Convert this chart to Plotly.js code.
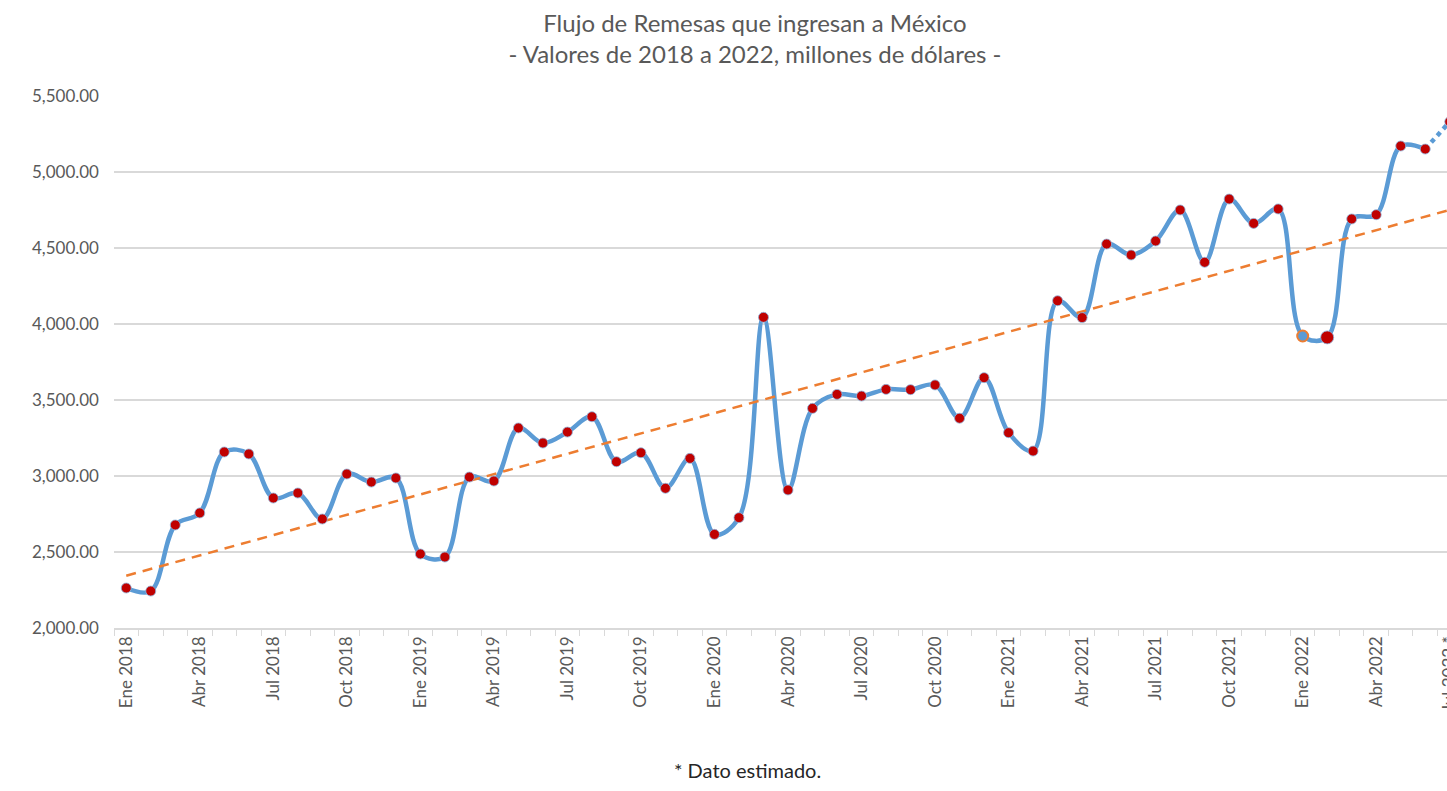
<!DOCTYPE html>
<html>
<head>
<meta charset="utf-8">
<script src="https://cdn.plot.ly/plotly-3.0.1.min.js"></script>
<style>
html, body { margin: 0; padding: 0; overflow: hidden; background: #fff; }
#chart { width: 1470px; height: 791px; }
</style>
</head>
<body>
<div id="chart"></div>
<script>
// Months (categories), Jan 2018 - Jul 2022 (last one is an estimate)
const categories = [
  'Ene 2018','Feb 2018','Mar 2018','Abr 2018','May 2018','Jun 2018','Jul 2018','Ago 2018','Sep 2018','Oct 2018','Nov 2018','Dic 2018',
  'Ene 2019','Feb 2019','Mar 2019','Abr 2019','May 2019','Jun 2019','Jul 2019','Ago 2019','Sep 2019','Oct 2019','Nov 2019','Dic 2019',
  'Ene 2020','Feb 2020','Mar 2020','Abr 2020','May 2020','Jun 2020','Jul 2020','Ago 2020','Sep 2020','Oct 2020','Nov 2020','Dic 2020',
  'Ene 2021','Feb 2021','Mar 2021','Abr 2021','May 2021','Jun 2021','Jul 2021','Ago 2021','Sep 2021','Oct 2021','Nov 2021','Dic 2021',
  'Ene 2022','Feb 2022','Mar 2022','Abr 2022','May 2022','Jun 2022','Jul 2022 *'
];

// Remittances, millions of USD
const remesas = [
  2263, 2243, 2678, 2757, 3158, 3145, 2855, 2888, 2717, 3013, 2960, 2987,
  2487, 2467, 2993, 2967, 3316, 3217, 3289, 3390, 3094, 3153, 2919, 3116,
  2616, 2726, 4044, 2908, 3445, 3537, 3526, 3570, 3568, 3599, 3380, 3647,
  3285, 3164, 4153, 4042, 4526, 4454, 4546, 4750, 4406, 4822, 4662, 4757,
  3921, 3912, 4691, 4719, 5171, 5151, 5331
];

// Tick labels shown every quarter
const tickLabels = [
  'Ene 2018','Abr 2018','Jul 2018','Oct 2018',
  'Ene 2019','Abr 2019','Jul 2019','Oct 2019',
  'Ene 2020','Abr 2020','Jul 2020','Oct 2020',
  'Ene 2021','Abr 2021','Jul 2021','Oct 2021',
  'Ene 2022','Abr 2022','Jul 2022 *'
];

const chartTitle = 'Flujo de Remesas que ingresan a México<br>- Valores de 2018 a 2022, millones de dólares -';
const footnote = '* Dato estimado.';

// ---- derived ----
const n = remesas.length;
const lastIdx = n - 1;

// linear trend (least squares), like Excel's linear trendline
let sx = 0, sy = 0, sxx = 0, sxy = 0;
remesas.forEach((v, i) => { sx += i; sy += v; sxx += i * i; sxy += i * v; });
const slope = (n * sxy - sx * sy) / (n * sxx - sx * sx);
const intercept = (sy - slope * sx) / n;

const tickText = categories.map(c => tickLabels.includes(c) ? c : '');

const FONT = 'Lato, "Open Sans", "Noto Sans", sans-serif';
const BLUE = '#5B9BD5';
const RED = '#C00000';
const ORANGE = '#ED7D31';

const markerColors = categories.map((c, i) => i === 48 ? BLUE : RED);
const markerSizes = categories.map((c, i) => i === 48 ? 11 : (i === 49 ? 13 : 10));
const markerLineColors = categories.map((c, i) => i === 48 ? ORANGE : '#8FB8E0');
const markerLineWidths = categories.map((c, i) => i === 48 ? 2 : 0.8);

const traces = [
  {
    x: categories.slice(0, lastIdx),
    y: remesas.slice(0, lastIdx),
    type: 'scatter', mode: 'lines',
    line: { color: BLUE, width: 4.5, shape: 'spline', smoothing: 1 },
    hoverinfo: 'skip'
  },
  {
    x: categories.slice(lastIdx - 1),
    y: remesas.slice(lastIdx - 1),
    type: 'scatter', mode: 'lines',
    line: { color: BLUE, width: 4.5, dash: 'dot' },
    hoverinfo: 'skip'
  },
  {
    x: [categories[0], categories[lastIdx]],
    y: [intercept, intercept + slope * lastIdx],
    type: 'scatter', mode: 'lines',
    line: { color: ORANGE, width: 2.5, dash: '10px,7px' },
    hoverinfo: 'skip'
  },
  {
    x: categories,
    y: remesas,
    type: 'scatter', mode: 'markers',
    marker: { color: markerColors, size: markerSizes, opacity: 1,
              line: { color: markerLineColors, width: markerLineWidths } },
    cliponaxis: false
  }
];

const layout = {
  width: 1470, height: 791,
  margin: { l: 114, r: 8, t: 96, b: 163 },
  paper_bgcolor: '#ffffff', plot_bgcolor: '#ffffff',
  showlegend: false,
  font: { family: FONT, color: '#595959' },
  title: {
    text: chartTitle,
    font: { family: FONT, size: 24, color: '#595959' },
    xref: 'container', x: 755 / 1470, xanchor: 'center',
    yref: 'container', y: 1 - 32 / 791, yanchor: 'top'
  },
  xaxis: {
    type: 'category',
    categoryorder: 'array', categoryarray: categories,
    range: [-0.5, n - 0.5],
    tickmode: 'array', tickvals: categories, ticktext: tickText,
    tickson: 'boundaries',
    ticks: 'outside', ticklen: 6, tickcolor: '#d9d9d9', tickwidth: 1,
    tickangle: -90,
    tickfont: { family: FONT, size: 17, color: '#595959' },
    showline: true, linecolor: '#d9d9d9', linewidth: 1.5,
    showgrid: false, zeroline: false
  },
  yaxis: {
    range: [2000, 5500],
    tickmode: 'linear', tick0: 2000, dtick: 500,
    tickformat: ',.2f',
    tickfont: { family: FONT, size: 17, color: '#595959' },
    showgrid: true, gridcolor: '#d9d9d9', gridwidth: 1.5,
    zeroline: false, showline: false, ticks: '',
    ticklabelstandoff: 14
  },
  annotations: [
    {
      text: footnote,
      xref: 'paper', x: (747 - 114) / 1348, xanchor: 'center',
      yref: 'paper', y: -(770 - 628) / 532, yanchor: 'middle',
      showarrow: false,
      font: { family: FONT, size: 20, color: '#262626' }
    }
  ]
};

Plotly.newPlot('chart', traces, layout, { displayModeBar: false, staticPlot: true });
</script>
</body>
</html>
